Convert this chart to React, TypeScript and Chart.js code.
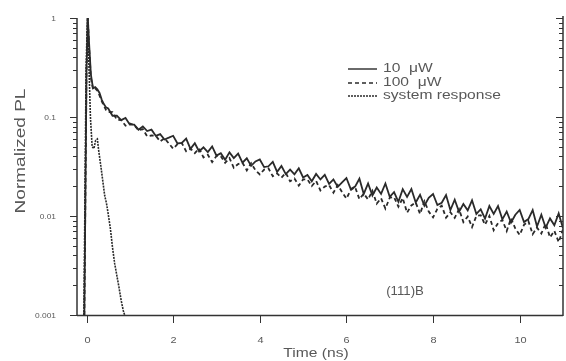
import React, { useEffect, useRef } from "react";
import { Chart, registerables } from "chart.js";

Chart.register(...registerables);

// ---- data ----
const headTimes = [-0.05, 0.0, 0.03, 0.06, 0.1, 0.15, 0.2, 0.25, 0.3, 0.35, 0.4, 0.45];
const head10uW = [0.001, 0.3, 1.0, 0.55, 0.27, 0.195, 0.2, 0.19, 0.175, 0.15, 0.135, 0.125];
const head100uW = [0.001, 0.3, 1.0, 0.5, 0.25, 0.19, 0.195, 0.185, 0.165, 0.145, 0.13, 0.118];

const tailTimes = [
  0.5, 0.6, 0.7, 0.8, 0.9, 1.0, 1.1, 1.2, 1.3, 1.4, 1.5, 1.6, 1.7, 1.8, 1.9,
  2.0, 2.1, 2.2, 2.3, 2.4, 2.5, 2.6, 2.7, 2.8, 2.9, 3.0, 3.1, 3.2, 3.3, 3.4,
  3.5, 3.6, 3.7, 3.8, 3.9, 4.0, 4.1, 4.2, 4.3, 4.4, 4.5, 4.6, 4.7, 4.8, 4.9,
  5.0, 5.1, 5.2, 5.3, 5.4, 5.5, 5.6, 5.7, 5.8, 5.9, 6.0, 6.1, 6.2, 6.3, 6.4,
  6.5, 6.6, 6.7, 6.8, 6.9, 7.0, 7.1, 7.2, 7.3, 7.4, 7.5, 7.6, 7.7, 7.8, 7.9,
  8.0, 8.1, 8.2, 8.3, 8.4, 8.5, 8.6, 8.7, 8.8, 8.9, 9.0, 9.1, 9.2, 9.3, 9.4,
  9.5, 9.6, 9.7, 9.8, 9.9, 10.0, 10.1, 10.2, 10.3, 10.4, 10.5, 10.6, 10.7, 10.8, 10.9,
  11.0,
];

const tail10uW = [
  0.122, 0.103, 0.1033, 0.0929, 0.0977, 0.0836, 0.0839, 0.0745, 0.0802, 0.0721, 0.0745, 0.0644, 0.0671, 0.0593, 0.0618,
  0.0646, 0.054, 0.0548, 0.0604, 0.0476, 0.0543, 0.0449, 0.0494, 0.0443, 0.0505, 0.0407, 0.0431, 0.037, 0.0439, 0.0385,
  0.0427, 0.0346, 0.0383, 0.0321, 0.0356, 0.0372, 0.0312, 0.0318, 0.0352, 0.0279, 0.032, 0.0265, 0.0294, 0.0264, 0.0303,
  0.0245, 0.026, 0.0224, 0.0266, 0.0234, 0.026, 0.0211, 0.0234, 0.0197, 0.0219, 0.0242, 0.0187, 0.0198, 0.0238, 0.0167,
  0.0213, 0.0161, 0.0194, 0.0167, 0.0213, 0.0156, 0.0174, 0.0139, 0.0187, 0.0156, 0.0187, 0.0137, 0.0164, 0.0127, 0.0153,
  0.0167, 0.0129, 0.0136, 0.0163, 0.0115, 0.0146, 0.011, 0.0132, 0.0114, 0.0144, 0.0105, 0.0117, 0.0094, 0.0126, 0.0105,
  0.0126, 0.00925, 0.0111, 0.00859, 0.0103, 0.0115, 0.00869, 0.00931, 0.0115, 0.00783, 0.0103, 0.00762, 0.00944, 0.00805, 0.0106,
  0.00752,
];

const tail100uW = [
  0.1124, 0.112, 0.094, 0.0933, 0.0817, 0.0861, 0.083, 0.0731, 0.0755, 0.0638, 0.065, 0.0646, 0.0566, 0.0611, 0.054,
  0.0479, 0.0532, 0.0546, 0.045, 0.0478, 0.0432, 0.048, 0.0391, 0.0415, 0.035, 0.0403, 0.0401, 0.0344, 0.0384, 0.0307,
  0.0335, 0.0345, 0.0289, 0.0342, 0.029, 0.0263, 0.0294, 0.0303, 0.0252, 0.0269, 0.0244, 0.0273, 0.0224, 0.0239, 0.0203,
  0.0234, 0.0234, 0.0201, 0.0226, 0.0181, 0.0198, 0.0205, 0.0172, 0.0205, 0.0174, 0.015, 0.0183, 0.0196, 0.0148, 0.0168,
  0.0147, 0.018, 0.01335, 0.0151, 0.0119, 0.0153, 0.0155, 0.0124, 0.0152, 0.0108, 0.0128, 0.0137, 0.0105, 0.0141, 0.0111,
  0.00968, 0.0118, 0.0127, 0.00962, 0.0109, 0.00957, 0.0117, 0.00869, 0.00986, 0.00774, 0.01, 0.0102, 0.00817, 0.01, 0.00718,
  0.00847, 0.00912, 0.00705, 0.00946, 0.00745, 0.00643, 0.00813, 0.00889, 0.00656, 0.00764, 0.00665, 0.00841, 0.00608, 0.00708, 0.00545,
  0.00733,
];

const sysTimes = [-0.06, -0.01, 0.02, 0.05, 0.09, 0.13, 0.17, 0.21, 0.25, 0.28, 0.33, 0.42, 0.46, 0.5, 0.55, 0.6, 0.65, 0.7, 0.75, 0.8, 0.85, 0.88];
const sysValues = [0.001, 0.3, 1.0, 0.4, 0.1, 0.05, 0.048, 0.058, 0.06, 0.046, 0.032, 0.016, 0.0135, 0.0105, 0.0075, 0.0048, 0.0033, 0.0025, 0.0019, 0.0014, 0.0011, 0.001];

const seriesLabels = ["10  \u03bcW", "100  \u03bcW", "system response"];
const yTickValues = [0.001, 0.01, 0.1, 1];
const yTickLabels = ["0.001", "0.01", "0.1", "1"];
const yMinorMultipliers = [2, 3, 4, 5, 6, 7, 8, 9];
const xTickValues = [0, 2, 4, 6, 8, 10];
const xTickLabels = ["0", "2", "4", "6", "8", "10"];
const xTitle = "Time (ns)";
const yTitle = "Normalized PL";
const sampleLabel = "(111)B";

const INK = "#2a2a2a";
const TEXT = "#585858";
const FONT = '"Liberation Sans", Arial, sans-serif';
const dashes: number[][] = [[], [4, 3], [2, 1]];

function drawText(
  ctx: CanvasRenderingContext2D,
  text: string,
  x: number,
  y: number,
  size: number,
  align: CanvasTextAlign,
  stretch: number,
  rotate = 0
) {
  ctx.save();
  ctx.translate(x, y);
  if (rotate) ctx.rotate(rotate);
  ctx.scale(stretch, 1);
  ctx.font = `${size}px ${FONT}`;
  ctx.textAlign = align;
  ctx.textBaseline = "middle";
  ctx.fillStyle = TEXT;
  ctx.fillText(text, 0, 0);
  ctx.restore();
}

function seg(ctx: CanvasRenderingContext2D, x1: number, y1: number, x2: number, y2: number) {
  ctx.beginPath();
  ctx.moveTo(x1, y1);
  ctx.lineTo(x2, y2);
  ctx.stroke();
}

const framePlugin = {
  id: "frame",
  afterDraw(chart: any) {
    const { ctx, chartArea: a, scales } = chart;
    const xs = scales.x;
    const ys = scales.y;
    ctx.save();
    ctx.strokeStyle = "#333";
    ctx.lineWidth = 1.5;
    seg(ctx, a.left, a.top, a.left, a.bottom + 1);
    seg(ctx, a.left, a.bottom + 0.5, a.right, a.bottom + 0.5);
    seg(ctx, a.right, a.top - 2, a.right, a.bottom + 1);

    ctx.lineWidth = 1;
    yTickValues.forEach((v, i) => {
      const y = Math.round(ys.getPixelForValue(v)) + 0.5;
      seg(ctx, a.left - 7, y, a.left, y);
      seg(ctx, a.right - 7, y, a.right, y);
      drawText(ctx, yTickLabels[i], a.left - 21, y, 8, "right", 1.05);
      if (v < 1) {
        yMinorMultipliers.forEach((m) => {
          const ym = Math.round(ys.getPixelForValue(v * m)) + 0.5;
          seg(ctx, a.left - 4, ym, a.left, ym);
          seg(ctx, a.right - 4, ym, a.right, ym);
        });
      }
    });
    xTickValues.forEach((v, i) => {
      const x = Math.round(xs.getPixelForValue(v)) + 0.5;
      seg(ctx, x, a.bottom, x, a.bottom + 8);
      drawText(ctx, xTickLabels[i], x, a.bottom + 25, 9.5, "center", 1.15);
    });

    drawText(ctx, xTitle, 316, 353, 13, "center", 1.2);
    drawText(ctx, yTitle, 21, 151, 15, "center", 1.27, -Math.PI / 2);
    drawText(ctx, sampleLabel, 405, 292, 12, "center", 1.1);

    const rows = [69, 83, 96];
    seriesLabels.forEach((label, i) => {
      ctx.save();
      ctx.strokeStyle = INK;
      ctx.lineWidth = 1.4;
      ctx.setLineDash(dashes[i]);
      seg(ctx, 348, rows[i], 377, rows[i]);
      ctx.restore();
      drawText(ctx, label, 383, rows[i], 12, "left", 1.3);
    });
    ctx.restore();
  },
};

function toPoints(xs: number[], ys: number[]) {
  return xs.map((x, i) => ({ x, y: ys[i] }));
}

export default function App() {
  const ref = useRef<HTMLCanvasElement | null>(null);
  useEffect(() => {
    document.body.style.margin = "0";
    const canvas = ref.current;
    if (!canvas) return;
    const chart = new Chart(canvas, {
      type: "line",
      data: {
        datasets: [
          {
            label: seriesLabels[2],
            data: toPoints(sysTimes, sysValues),
            borderColor: INK,
            borderWidth: 1.6,
            borderDash: dashes[2],
            pointRadius: 0,
            tension: 0,
          },
          {
            label: seriesLabels[1],
            data: toPoints([...headTimes, ...tailTimes], [...head100uW, ...tail100uW]),
            borderColor: INK,
            borderWidth: 1.8,
            borderDash: dashes[1],
            pointRadius: 0,
            tension: 0,
          },
          {
            label: seriesLabels[0],
            data: toPoints([...headTimes, ...tailTimes], [...head10uW, ...tail10uW]),
            borderColor: INK,
            borderWidth: 1.8,
            pointRadius: 0,
            tension: 0,
          },
        ],
      },
      options: {
        animation: false,
        responsive: false,
        devicePixelRatio: 1,
        layout: { padding: { left: 77, right: 3, top: 18, bottom: 46 } },
        plugins: { legend: { display: false }, tooltip: { enabled: false } },
        scales: {
          x: { type: "linear", min: -0.22, max: 11.0, display: false },
          y: { type: "logarithmic", min: 0.001, max: 1, display: false },
        },
      },
      plugins: [framePlugin],
    });
    return () => chart.destroy();
  }, []);
  return (
    <div style={{ width: 566, height: 361, background: "#fff" }}>
      <canvas ref={ref} width={566} height={361} />
    </div>
  );
}
